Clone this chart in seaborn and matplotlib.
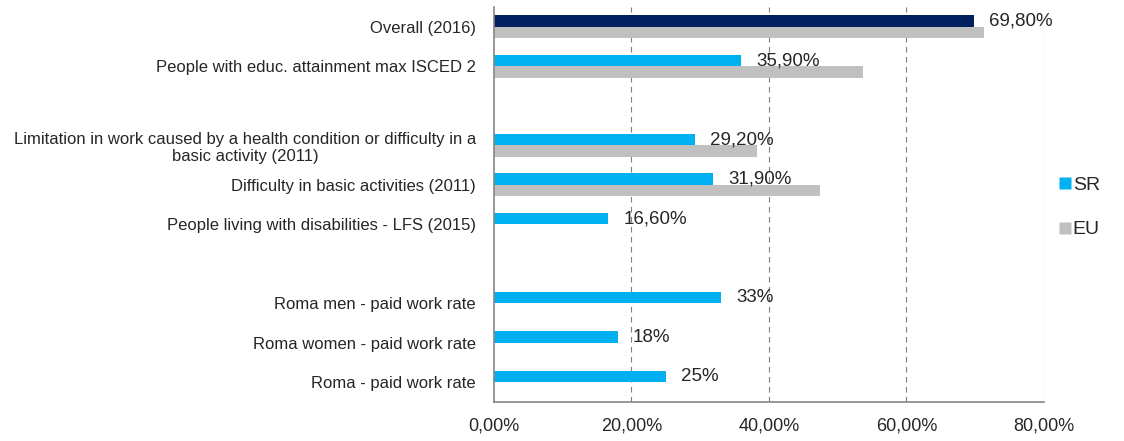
import pandas as pd
import numpy as np
import matplotlib
matplotlib.use("Agg")
import matplotlib.pyplot as plt
from matplotlib.lines import Line2D
import seaborn as sns

# categories top to bottom; blank rows are spacers
categories = [
    "Overall (2016)",
    "People with educ. attainment max ISCED 2",
    "",
    "Limitation in work caused by a health condition or difficulty in a\nbasic activity (2011)",
    "Difficulty in basic activities (2011)",
    "People living with disabilities - LFS (2015)",
    " ",
    "Roma men - paid work rate",
    "Roma women - paid work rate",
    "Roma - paid work rate",
]
sr_values = [69.8, 35.9, np.nan, 29.2, 31.9, 16.6, np.nan, 33.0, 18.0, 25.0]
eu_values = [71.3, 53.7, np.nan, 38.3, 47.4, np.nan, np.nan, np.nan, np.nan, np.nan]
sr_labels = ["69,80%", "35,90%", "29,20%", "31,90%", "16,60%", "33%", "18%", "25%"]
x_ticks = [0, 20, 40, 60, 80]
x_ticklabels = ["0,00%", "20,00%", "40,00%", "60,00%", "80,00%"]

df = pd.DataFrame({
    "category": categories * 2,
    "series": ["SR"] * len(categories) + ["EU"] * len(categories),
    "value": sr_values + eu_values,
})

sns.set_style("white")
plt.rcParams["font.family"] = ["Liberation Sans", "DejaVu Sans"]

c_sr = "#00B0F0"
c_eu = "#C0C0C0"
c_overall = "#002060"

fig, ax = plt.subplots(figsize=(11.24, 4.41), dpi=100)
fig.subplots_adjust(left=0.4395, right=0.9288, top=0.9841, bottom=0.0884)

sns.barplot(data=df.dropna(), y="category", x="value", hue="series",
            order=categories, hue_order=["SR", "EU"],
            palette={"SR": c_sr, "EU": c_eu}, width=0.58,
            orient="h", ax=ax, legend=False, saturation=1)

# highlight the overall SR bar
ax.containers[0].patches[0].set_facecolor(c_overall)
for p in ax.patches:
    p.set_edgecolor("none")

ax.bar_label(ax.containers[0], labels=sr_labels, padding=11,
             fontsize=13.5, color="#262626")

ax.set_xlim(0, 80)
ax.set_ylim(9.5, -0.5)
ax.set_xticks(x_ticks)
ax.set_xticklabels(x_ticklabels, fontsize=13, color="#262626")
ax.set_yticks(range(len(categories)))
ax.set_yticklabels(categories, fontsize=12, color="#262626", multialignment="center")
ax.set_yticks(np.arange(-0.5, len(categories), 1), minor=True)
ax.tick_params(axis="y", which="major", length=0, pad=13)
ax.tick_params(axis="y", which="minor", length=5, color="#868686", direction="out")
ax.tick_params(axis="x", length=5, color="#868686", direction="out", pad=6)
ax.set_xlabel("")
ax.set_ylabel("")

for x in x_ticks[1:]:
    ax.axvline(x, color="#7f7f7f", linestyle=(0, (5, 4)), linewidth=0.8, zorder=0)

for s in ["top", "right"]:
    ax.spines[s].set_visible(False)
for s in ["left", "bottom"]:
    ax.spines[s].set_color("#868686")
    ax.spines[s].set_linewidth(1.2)

handles = [Line2D([], [], marker="s", linestyle="none", markersize=8,
                  markerfacecolor=c, markeredgecolor="none") for c in (c_sr, c_eu)]
fig.legend(handles, ["SR", "EU"], loc="center left", bbox_to_anchor=(0.925, 0.53),
           frameon=False, fontsize=14, handletextpad=0.0, labelspacing=1.4,
           handlelength=0.8)

fig.savefig("out.png", dpi=100)
